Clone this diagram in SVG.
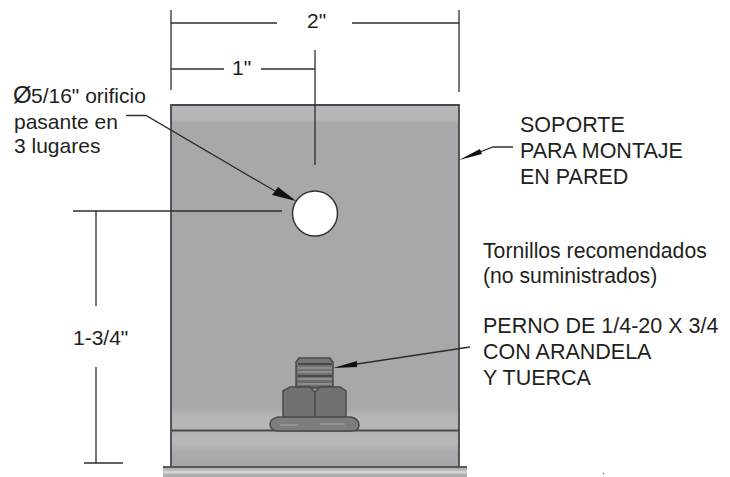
<svg xmlns="http://www.w3.org/2000/svg" width="730" height="477" viewBox="0 0 730 477">
<style>
text{font-family:"Liberation Sans",Arial,sans-serif;font-size:21px;fill:#231f20}
.c{font-size:21.500px}
.t{font-size:21.200px}
.p{font-size:10px}
.d{fill:none;stroke:#2f2c2d;stroke-width:1.300}
.a{fill:#111}
.o{stroke:#4a4a4c;stroke-width:1.500}
</style>
<defs>
<linearGradient id="plate" x1="0" y1="0" x2="0" y2="1">
<stop offset="0" stop-color="#b5b6b9"/><stop offset="0.042" stop-color="#b7b8bb"/><stop offset="0.056" stop-color="#a7a8ab"/><stop offset="0.93" stop-color="#a7a8ab"/><stop offset="0.955" stop-color="#b6b7ba"/><stop offset="1" stop-color="#b4b5b8"/>
</linearGradient>
<linearGradient id="low" x1="0" y1="0" x2="0" y2="1">
<stop offset="0" stop-color="#b2b3b6"/><stop offset="0.35" stop-color="#b8b9bc"/><stop offset="0.6" stop-color="#a9aaad"/><stop offset="1" stop-color="#a6a7aa"/>
</linearGradient>
<linearGradient id="base" x1="0" y1="0" x2="0" y2="1">
<stop offset="0" stop-color="#58585a"/><stop offset="0.14" stop-color="#58585a"/><stop offset="0.2" stop-color="#b0b1b3"/><stop offset="0.45" stop-color="#c2c3c5"/><stop offset="0.55" stop-color="#e2e2e3"/><stop offset="0.72" stop-color="#b5b6b8"/><stop offset="1" stop-color="#a8a9ab"/>
</linearGradient>
<linearGradient id="thread" x1="0" y1="0" x2="0" y2="1">
<stop offset="0" stop-color="#75767a"/><stop offset="1" stop-color="#68696b"/>
</linearGradient>
</defs>
<g id="bracket">
<rect x="171" y="105" width="288" height="326" fill="url(#plate)"/>
<rect x="171" y="431" width="288" height="35" fill="url(#low)"/>
<rect x="163" y="466" width="304" height="11" fill="url(#base)"/>
<path d="M171 466V105H459V466" fill="none" stroke="#47474a" stroke-width="1.800"/>
<path d="M171 430.500H459" stroke="#4a4a4c" stroke-width="1.800"/>
</g>
<g id="hole"><circle cx="315" cy="213.500" r="22.500" fill="#fff" stroke="#333" stroke-width="1.500"/></g>
<g id="bolt">
<path d="M296 362L299 358H330L333 362V388H296Z" fill="url(#thread)" class="o"/>
<path d="M298 368H332M298 372H332M298 379H332M298 384H332" stroke="#96979a" stroke-width="1.500"/>
<path d="M298 364H332M298 376H332" stroke="#48484a" stroke-width="2"/>
<path d="M283 391L290 387H310L315 392L320 387H340L346 391V418H283Z" fill="#707173" class="o"/>
<path d="M315 392V418" class="o"/>
<path d="M278 417H351Q359 419 359 425Q359 431 351 431H279Q270 431 270 424Q270 419 278 417Z" fill="#7c7d7f" class="o"/>
<path d="M280 425H298M320 424H345" stroke="#98999b" stroke-width="1.500"/>
</g>
<g id="connectors">
<path class="d" d="M171 10V90M459 10V92M315 50V165M171 23H277M352 23H459M171 69H224M261 69H315M73 211H282M96 211V306M96 367V463M84 463H123"/>
<path class="d" d="M126 115.500H146L275 191"/>
<polygon class="a" points="296,201 272,195 278,187"/>
<path class="d" d="M513 147H493L480 152"/>
<polygon class="a" points="459,160 480,149 482,154"/>
<path class="d" d="M470 347L357 364"/>
<polygon class="a" points="333,368 357,361 357,367"/>
</g>
<g id="labels">
<text x="307" y="28">2"</text>
<text x="232" y="75">1"</text>
<text x="73" y="345">1-3/4"</text>
<text x="13" y="103"><tspan style="font-size:24px">Ø</tspan><tspan x="31">5/16" orificio</tspan></text>
<text x="14" y="129">pasante en</text>
<text x="14" y="153">3 lugares</text>
<text class="c" x="520" y="132">SOPORTE</text>
<text class="c" x="520" y="158">PARA MONTAJE</text>
<text class="c" x="520" y="184">EN PARED</text>
<text class="t" x="483" y="258">Tornillos recomendados</text>
<text class="t" x="483" y="283">(no suministrados)</text>
<text class="c" x="483" y="333">PERNO DE 1/4-20 X 3/4</text>
<text class="c" x="483" y="359">CON ARANDELA</text>
<text class="c" x="483" y="385">Y TUERCA</text>
<text class="p" x="602" y="474">.</text>
</g>
</svg>
